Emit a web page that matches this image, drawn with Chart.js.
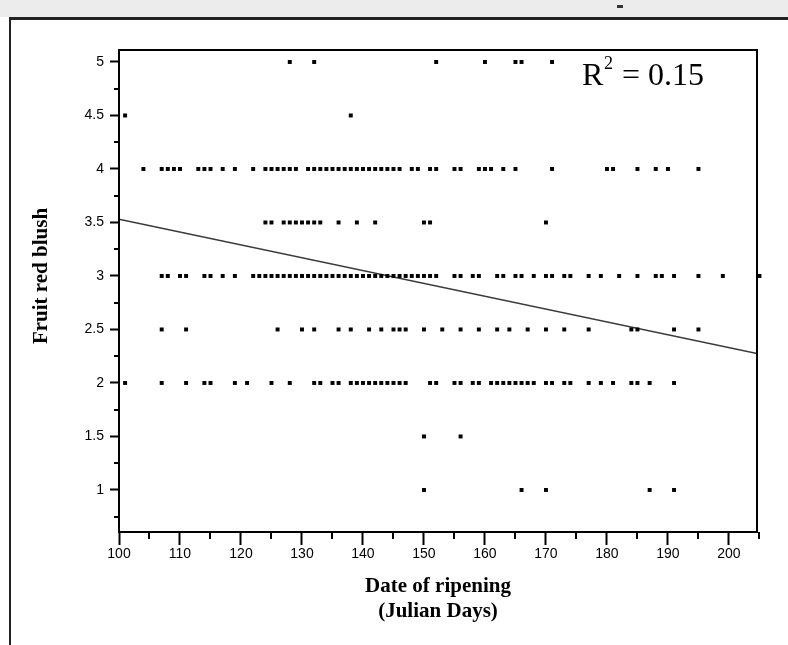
<!DOCTYPE html>
<html><head><meta charset="utf-8">
<script src="https://cdn.jsdelivr.net/npm/chart.js@4/dist/chart.umd.min.js"></script>
<style>
html,body{margin:0;padding:0;background:#fff;}
#wrap{position:relative;width:788px;height:645px;overflow:hidden;background:#fff;}
#topbar{position:absolute;left:0;top:0;width:788px;height:17px;background:#ececec;}
#topline{position:absolute;left:9px;top:17px;width:779px;height:3px;background:#222;}
#leftline{position:absolute;left:9px;top:17px;width:2px;height:628px;background:#222;}
#mark{position:absolute;left:617px;top:5px;width:6px;height:3px;background:#333;}
canvas{position:absolute;left:0;top:0;}
</style></head><body>
<div id="wrap"><div id="topbar"></div><div id="mark"></div><div id="topline"></div><div id="leftline"></div>
<canvas id="c" width="788" height="645"></canvas></div>
<script>
// Ripening day (Julian) of each fruit, grouped by its red blush score
const DAYS_AT_5   = [128, 132, 152, 160, 165, 166, 171];
const DAYS_AT_4_5 = [101, 138];
const DAYS_AT_4   = [104, 107, 108, 109, 110, 113, 114, 115, 117, 119, 122, 124, 125, 126, 127, 128, 129,
                     131, 132, 133, 134, 135, 136, 137, 138, 139, 140, 141, 142, 143, 144, 145, 146, 148, 149,
                     151, 152, 155, 156, 159, 160, 161, 163, 165, 171, 180, 181, 185, 188, 190, 195];
const DAYS_AT_3_5 = [124, 125, 127, 128, 129, 130, 131, 132, 133, 136, 139, 142, 150, 151, 170];
const DAYS_AT_3   = [107, 108, 110, 111, 114, 115, 117, 119, 122, 123, 124, 125, 126, 127, 128, 129, 130,
                     131, 132, 133, 134, 135, 136, 137, 138, 139, 140, 141, 142, 143, 144, 145, 146, 147, 148,
                     149, 150, 151, 152, 155, 156, 158, 159, 162, 163, 165, 166, 168, 170, 171, 173, 174, 177,
                     179, 182, 185, 188, 189, 191, 195, 199, 205];
const DAYS_AT_2_5 = [107, 111, 126, 130, 132, 136, 138, 141, 143, 145, 146, 147, 150, 153, 156, 159, 162,
                     164, 167, 170, 173, 177, 184, 185, 191, 195];
const DAYS_AT_2   = [101, 107, 111, 114, 115, 119, 121, 125, 128, 132, 133, 135, 136, 138, 139, 140, 141,
                     142, 143, 144, 145, 146, 147, 151, 152, 155, 156, 158, 159, 161, 162, 163, 164, 165, 166,
                     167, 168, 170, 171, 173, 174, 177, 179, 181, 184, 185, 187, 191];
const DAYS_AT_1_5 = [150, 156];
const DAYS_AT_1   = [150, 166, 170, 187, 191];

const BLUSH_LEVELS = [5, 4.5, 4, 3.5, 3, 2.5, 2, 1.5, 1];
const DAYS_BY_LEVEL = [DAYS_AT_5, DAYS_AT_4_5, DAYS_AT_4, DAYS_AT_3_5, DAYS_AT_3, DAYS_AT_2_5, DAYS_AT_2, DAYS_AT_1_5, DAYS_AT_1];

// Fitted regression line (end points)
const FIT_DAYS  = [100, 204.6];
const FIT_BLUSH = [3.53, 2.275];

// Axes
const X_TICKS = [100, 110, 120, 130, 140, 150, 160, 170, 180, 190, 200];
const X_MINOR = [105, 115, 125, 135, 145, 155, 165, 175, 185, 195, 205];
const Y_TICKS = [1, 1.5, 2, 2.5, 3, 3.5, 4, 4.5, 5];
const Y_MINOR = [0.75, 1.25, 1.75, 2.25, 2.75, 3.25, 3.75, 4.25, 4.75];
const X_TITLE = ['Date of ripening', '(Julian Days)'];
const Y_TITLE = 'Fruit red blush';
const R2_VALUE = '0.15';

const points = [];
BLUSH_LEVELS.forEach((lvl, i) => DAYS_BY_LEVEL[i].forEach(d => points.push({x: d, y: lvl})));
const fitLine = FIT_DAYS.map((d, i) => ({x: d, y: FIT_BLUSH[i]}));

const decor = {
  id: 'decor',
  afterDraw(chart) {
    const {ctx, chartArea: a, scales: {x, y}} = chart;
    ctx.save();
    ctx.strokeStyle = '#000';
    ctx.lineWidth = 2;
    ctx.strokeRect(a.left, a.top, a.right - a.left, a.bottom - a.top);
    ctx.beginPath();
    Y_MINOR.forEach(v => { const py = Math.round(y.getPixelForValue(v)); ctx.moveTo(a.left - 5, py); ctx.lineTo(a.left, py); });
    X_MINOR.forEach(v => { const px = Math.round(x.getPixelForValue(v)); ctx.moveTo(px, a.bottom); ctx.lineTo(px, a.bottom + 7); });
    ctx.stroke();
    // y title
    ctx.fillStyle = '#000';
    ctx.font = 'bold 21px "Liberation Serif"';
    ctx.textAlign = 'center';
    ctx.textBaseline = 'middle';
    ctx.translate(42, 276);
    ctx.rotate(-Math.PI / 2);
    ctx.fillText(Y_TITLE, 0, 0);
    ctx.restore();
    // R² annotation
    ctx.save();
    ctx.fillStyle = '#000';
    ctx.textBaseline = 'alphabetic';
    ctx.textAlign = 'left';
    ctx.font = '32px "Liberation Serif"';
    ctx.fillText('R', 582, 85);
    ctx.font = '18px "Liberation Serif"';
    ctx.fillText('2', 604, 69);
    ctx.font = '32px "Liberation Serif"';
    ctx.fillText('= ' + R2_VALUE, 622, 85);
    ctx.restore();
  }
};

new Chart(document.getElementById('c'), {
  type: 'scatter',
  data: {
    datasets: [
      {data: points, pointStyle: 'rect', pointRadius: 2.8, pointBorderWidth: 0,
       backgroundColor: '#000', borderColor: '#000', clip: false, order: 1},
      {data: fitLine, showLine: true, borderColor: '#3a3a3a', borderWidth: 1.5,
       pointRadius: 0, order: 2}
    ]
  },
  options: {
    responsive: false,
    animation: false,
    events: [],
    layout: {padding: {left: 0, right: 31, top: 50, bottom: 21}},
    plugins: {legend: {display: false}, tooltip: {enabled: false}},
    scales: {
      x: {
        type: 'linear', min: 100, max: 204.6,
        afterBuildTicks: s => { s.ticks = X_TICKS.map(v => ({value: v})); },
        afterFit: s => { s.height = 92; },
        ticks: {font: {family: 'Liberation Sans', size: 14}, color: '#000', padding: 1,
                maxRotation: 0, autoSkip: false, callback: v => String(v)},
        grid: {drawOnChartArea: false, tickLength: 13, tickWidth: 2, tickColor: '#000'},
        border: {display: true, color: '#000', width: 2},
        title: {display: true, text: X_TITLE, color: '#000',
                font: {family: 'Liberation Serif', weight: 'bold', size: 21}, padding: {top: 0, bottom: 0}}
      },
      y: {
        type: 'linear', min: 0.607, max: 5.112,
        afterBuildTicks: s => { s.ticks = Y_TICKS.map(v => ({value: v})); },
        afterFit: s => { s.width = 119; },
        ticks: {font: {family: 'Liberation Sans', size: 14}, color: '#000', padding: 6,
                autoSkip: false, callback: v => String(v)},
        grid: {drawOnChartArea: false, tickLength: 9, tickWidth: 2, tickColor: '#000'},
        border: {display: true, color: '#000', width: 2}
      }
    }
  },
  plugins: [decor]
});
</script>
</body></html>
